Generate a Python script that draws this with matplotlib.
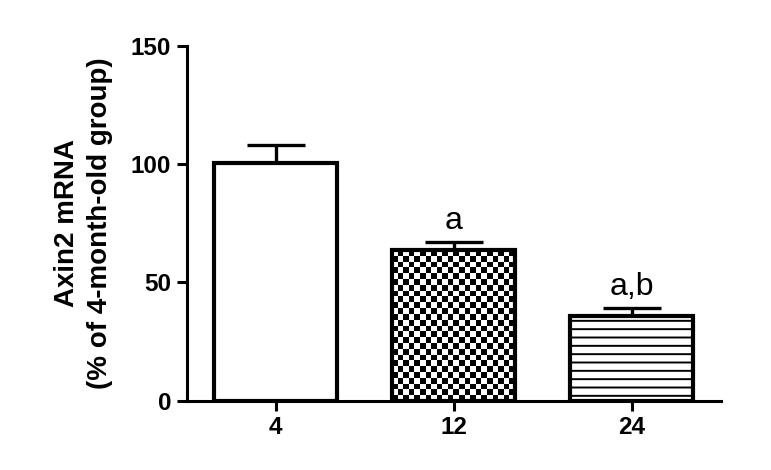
import numpy as np
import matplotlib
matplotlib.use('Agg')
import matplotlib.pyplot as plt

plt.rcParams['font.family'] = ['Liberation Sans', 'DejaVu Sans']
plt.rcParams['hatch.linewidth'] = 1.4

# data
ages = ['4', '12', '24']
axin2 = [100.5, 63.5, 36.0]
sem = [7.5, 3.4, 3.2]
letters = ['', 'a', 'a,b']

fig = plt.figure(figsize=(7.71, 4.70), dpi=100)
ax = fig.add_axes([0.242, 0.147, 0.693, 0.756])

x = np.arange(len(ages))
bars = ax.bar(x, axin2, width=0.69, color='white', edgecolor='black',
              linewidth=3.0, zorder=3)
ax.errorbar(x, axin2, yerr=[np.zeros(len(sem)), sem], fmt='none', ecolor='black',
            elinewidth=2.4, capsize=21, capthick=2.4, zorder=1)

ax.set_xlim(-0.5, 2.5)
ax.set_ylim(0, 150)

# checkerboard fill for the 12-month bar (cells ~5.7 px)
b = bars[1]
b.set_facecolor('none')
ext = b.get_window_extent()
nx = int(round(ext.width / 5.7))
ny = int(round(ext.height / 5.7))
checker = (np.add.outer(np.arange(ny), np.arange(nx)) % 2).astype(float)
im = ax.imshow(checker, cmap='gray', interpolation='nearest', aspect='auto',
               origin='lower', zorder=2,
               extent=(b.get_x(), b.get_x() + b.get_width(), 0, b.get_height()))
im.set_clip_path(b)

# horizontal stripes for the 24-month bar
bars[2].set_hatch('--')

for xi, v, e, lab in zip(x, axin2, sem, letters):
    if lab:
        ax.text(xi, v + e + 5.5, lab, ha='center', va='baseline', fontsize=23)

ax.set_xlim(-0.5, 2.5)
ax.set_ylim(0, 150)
ax.set_yticks([0, 50, 100, 150])
ax.set_xticks(x)
ax.set_xticklabels(ages)

for s in ['top', 'right']:
    ax.spines[s].set_visible(False)
for s in ['left', 'bottom']:
    ax.spines[s].set_linewidth(2.2)

ax.tick_params(axis='both', width=2.2, length=7, labelsize=17.5, pad=4)
for t in ax.get_xticklabels() + ax.get_yticklabels():
    t.set_fontweight('bold')

fig.text(83.5 / 771, 1 - 223 / 470, 'Axin2 mRNA\n(% of 4-month-old group)',
         rotation=90, ha='center', va='center', multialignment='center',
         fontsize=20, fontweight='bold', linespacing=1.33)

fig.savefig('out.png', dpi=100)
